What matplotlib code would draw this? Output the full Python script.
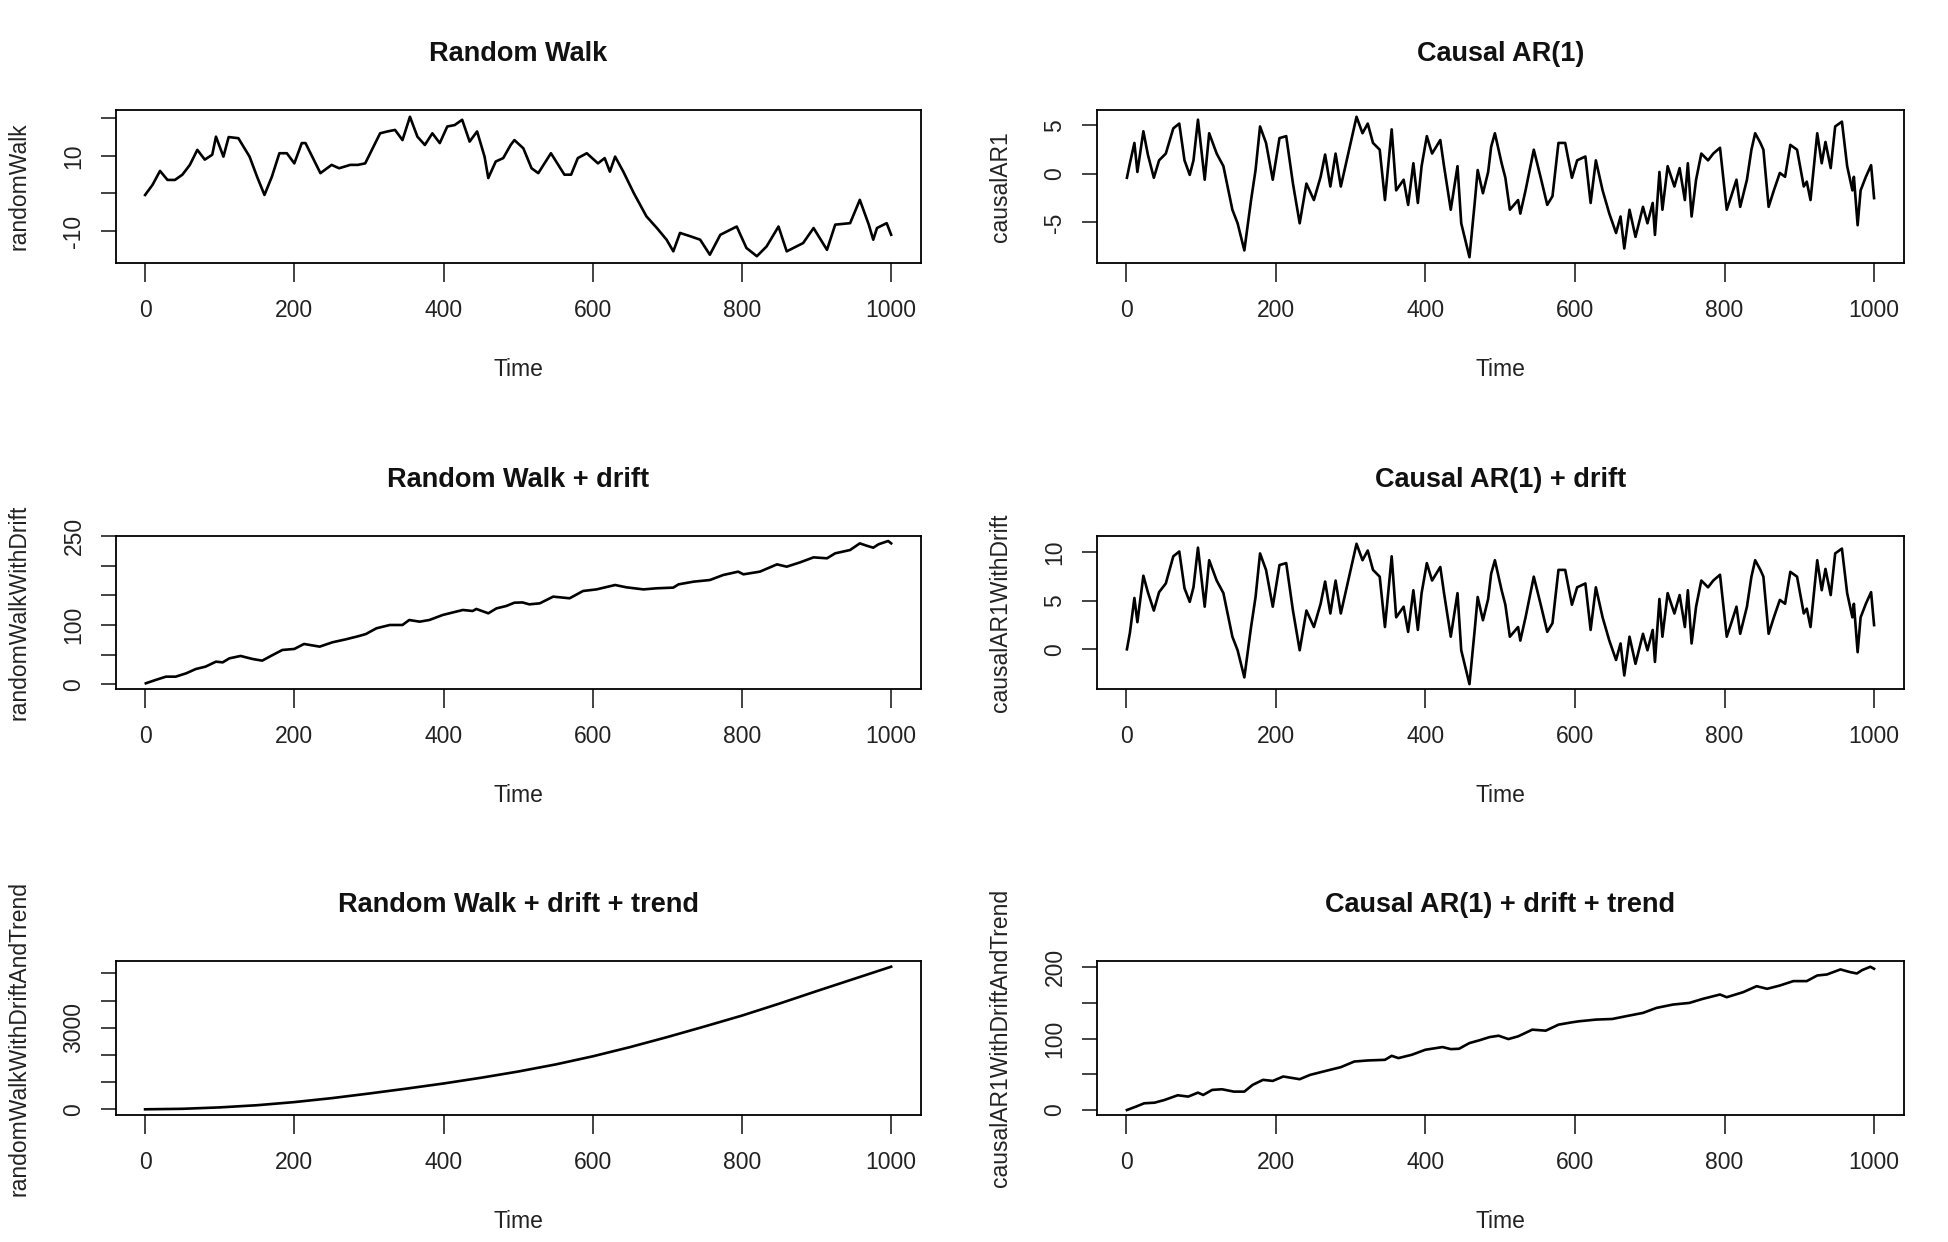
import matplotlib
matplotlib.use("Agg")
import matplotlib.pyplot as plt

plt.rcParams['font.family'] = ['Liberation Sans', 'DejaVu Sans']

# shared time axis ticks
time_ticks = [0, 200, 400, 600, 800, 1000]

# Random Walk
rw_t = [0, 10, 20, 30, 40, 50, 60, 70, 80, 90,
        95, 105, 112, 125, 140, 150, 160, 170, 180, 190,
        200, 210, 215, 225, 235, 250, 260, 275, 285, 295,
        305, 315, 325, 335, 345, 355, 365, 375, 385, 395,
        405, 415, 425, 435, 445, 455, 460, 470, 480, 490,
        495, 507, 518, 527, 544, 562, 571, 580, 592, 607,
        616, 623, 630, 641, 655, 672, 686, 699, 708, 717,
        731, 744, 757, 771, 793, 806, 820, 833, 849, 860,
        882, 896, 914, 925, 945, 958, 970, 976, 981, 994,
        1000]
rw_v = [-0.4, 2.3, 6.0, 3.6, 3.6, 5.0, 7.6, 11.6, 9.0, 10.3,
        15.1, 9.8, 15.0, 14.7, 9.8, 4.5, -0.4, 4.5, 10.7, 10.7,
        8.0, 13.4, 13.4, 9.4, 5.4, 7.6, 6.7, 7.6, 7.6, 8.0,
        12.0, 16.0, 16.5, 16.9, 14.2, 20.4, 15.1, 12.9, 16.0, 13.4,
        17.8, 18.2, 19.6, 13.8, 16.5, 9.8, 4.1, 8.5, 9.4, 12.9,
        14.2, 12.0, 6.7, 5.4, 10.7, 5.0, 5.0, 9.4, 10.7, 8.0,
        9.4, 5.8, 9.8, 5.8, 0.1, -6.1, -9.2, -12.3, -15.4, -10.5,
        -11.4, -12.3, -16.3, -11.0, -8.8, -14.5, -16.7, -14.1, -8.8, -15.4,
        -13.2, -9.2, -15.0, -8.3, -7.9, -1.7, -8.3, -12.3, -9.2, -7.9,
        -11.0]

# Causal AR(1)
ar_t = [1, 5, 11, 15, 23, 29, 37, 44, 53, 63,
        71, 78, 85, 90, 96, 105, 111, 121, 130, 142,
        149, 158, 167, 173, 179, 187, 196, 205, 214, 223,
        232, 241, 251, 260, 266, 273, 280, 287, 294, 300,
        308, 316, 323, 330, 339, 346, 355, 361, 371, 377,
        384, 390, 395, 402, 409, 420, 425, 434, 443, 448,
        459, 466, 470, 477, 484, 488, 493, 502, 507, 513,
        524, 527, 534, 545, 554, 563, 570, 578, 587, 596,
        603, 614, 621, 628, 637, 646, 655, 661, 666, 673,
        681, 691, 697, 704, 707, 713, 717, 724, 733, 740,
        747, 751, 756, 762, 769, 778, 785, 794, 803, 809,
        816, 821, 830, 836, 841, 848, 852, 859, 866, 874,
        881, 888, 897, 906, 910, 915, 924, 930, 935, 942,
        948, 957, 964, 971, 973, 978, 982, 989, 996, 1000]
ar_v = [-0.4, 1.1, 3.2, 0.2, 4.4, 2.0, -0.4, 1.4, 2.1, 4.7,
        5.2, 1.4, -0.1, 1.4, 5.6, -0.6, 4.2, 2.1, 0.8, -3.7,
        -5.1, -7.9, -2.7, 0.4, 4.9, 3.2, -0.6, 3.7, 3.9, -1.0,
        -5.1, -1.0, -2.7, -0.3, 2.0, -1.3, 2.1, -1.3, 1.1, 3.2,
        5.9, 4.2, 5.2, 3.2, 2.5, -2.7, 4.6, -1.7, -0.6, -3.2,
        1.1, -3.0, 0.8, 3.9, 2.1, 3.5, 0.8, -3.7, 0.8, -5.1,
        -8.6, -3.0, 0.4, -2.0, 0.2, 2.8, 4.2, 1.1, -0.4, -3.7,
        -2.7, -4.1, -1.7, 2.5, -0.3, -3.2, -2.3, 3.2, 3.2, -0.4,
        1.4, 1.8, -3.0, 1.4, -1.7, -4.1, -6.1, -4.4, -7.7, -3.7,
        -6.5, -3.4, -5.1, -3.0, -6.3, 0.2, -3.7, 0.8, -1.3, 0.6,
        -2.7, 1.1, -4.4, -0.6, 2.1, 1.4, 2.1, 2.7, -3.7, -2.3,
        -0.6, -3.4, -0.6, 2.5, 4.2, 3.2, 2.5, -3.4, -1.7, 0.1,
        -0.3, 3.0, 2.5, -1.3, -0.8, -2.7, 4.2, 1.1, 3.3, 0.6,
        4.9, 5.4, 0.8, -1.7, -0.3, -5.3, -1.7, -0.3, 0.9, -2.5]

# Random Walk + drift
rwd_t = [1, 14, 28, 41, 55, 68, 81, 95, 104, 113,
         128, 144, 157, 171, 184, 200, 213, 234, 251, 269,
         287, 296, 310, 328, 345, 354, 368, 381, 399, 413,
         426, 439, 444, 460, 471, 484, 495, 506, 515, 529,
         547, 569, 587, 605, 630, 645, 668, 685, 708, 715,
         735, 757, 775, 795, 802, 824, 847, 860, 878, 896,
         914, 925, 945, 958, 967, 976, 983, 996, 1000]
rwd_v = [1.7, 7.3, 12.9, 12.9, 18.5, 25.8, 29.8, 38.2, 37.0, 43.8,
         47.8, 42.7, 39.9, 49.4, 57.9, 59.6, 68.0, 63.5, 70.8, 75.8,
         81.5, 84.8, 94.4, 100.0, 100.0, 108.4, 105.6, 108.4, 116.9, 121.3,
         125.3, 123.6, 127.0, 119.7, 128.0, 132.0, 137.6, 138.0, 134.8, 136.5,
         147.8, 145.0, 157.3, 160.0, 167.4, 163.5, 160.0, 161.8, 163.0, 168.5,
         173.0, 175.8, 184.3, 189.9, 185.4, 189.9, 202.2, 198.3, 205.6, 214.0,
         212.4, 220.8, 226.4, 237.6, 233.7, 230.3, 236.0, 241.6, 237.6]

# Causal AR(1) + drift (same time points as AR(1))
ard_v = [0.0, 1.7, 5.3, 2.8, 7.6, 5.9, 4.0, 5.9, 6.8, 9.6,
         10.1, 6.3, 4.9, 6.4, 10.5, 4.4, 9.2, 7.1, 5.8, 1.3,
         -0.1, -2.9, 2.3, 5.4, 9.9, 8.2, 4.4, 8.7, 8.9, 4.0,
         -0.1, 4.0, 2.3, 4.7, 7.0, 3.7, 7.1, 3.7, 6.1, 8.2,
         10.9, 9.2, 10.2, 8.2, 7.5, 2.3, 9.6, 3.3, 4.4, 1.8,
         6.1, 2.0, 5.8, 8.9, 7.1, 8.5, 5.8, 1.3, 5.8, -0.1,
         -3.6, 2.0, 5.4, 3.0, 5.2, 7.8, 9.2, 6.1, 4.6, 1.3,
         2.3, 0.9, 3.3, 7.5, 4.7, 1.8, 2.7, 8.2, 8.2, 4.6,
         6.4, 6.8, 2.0, 6.4, 3.3, 0.9, -1.1, 0.6, -2.7, 1.3,
         -1.5, 1.6, -0.1, 2.0, -1.3, 5.2, 1.3, 5.8, 3.7, 5.6,
         2.3, 6.1, 0.6, 4.4, 7.1, 6.4, 7.1, 7.7, 1.3, 2.7,
         4.4, 1.6, 4.4, 7.5, 9.2, 8.2, 7.5, 1.6, 3.3, 5.1,
         4.7, 8.0, 7.5, 3.7, 4.2, 2.3, 9.2, 6.1, 8.3, 5.6,
         9.9, 10.4, 5.8, 3.3, 4.7, -0.3, 3.3, 4.7, 5.9, 2.5]

# Random Walk + drift + trend
rwt_t = [0, 50, 100, 150, 200, 250, 300, 350, 400, 450, 500,
         550, 600, 650, 700, 750, 800, 850, 900, 950, 1000]
rwt_v = [0, 18, 70, 150, 265, 410, 580, 760, 950, 1160, 1390,
         1650, 1950, 2290, 2660, 3050, 3450, 3890, 4350, 4800, 5250]

# Causal AR(1) + drift + trend
art_t = [1, 13, 24, 38, 51, 69, 83, 96, 103, 115,
         128, 144, 158, 169, 183, 196, 210, 232, 246, 269,
         287, 305, 323, 346, 355, 364, 382, 400, 423, 434,
         445, 459, 472, 486, 498, 511, 524, 543, 561, 578,
         596, 605, 628, 650, 668, 691, 709, 731, 753, 771,
         794, 803, 825, 843, 857, 874, 892, 910, 924, 937,
         955, 968, 977, 984, 995, 1000]
art_v = [0.0, 4.7, 9.4, 10.3, 14.0, 20.7, 18.8, 24.4, 21.1, 28.2,
         29.1, 25.8, 25.8, 35.2, 42.3, 40.8, 47.0, 43.2, 49.3, 55.4,
         60.1, 68.0, 69.5, 70.4, 76.0, 72.8, 77.5, 84.5, 88.3, 85.4,
         85.9, 93.9, 97.7, 102.3, 104.2, 99.5, 103.3, 112.7, 111.3, 119.7,
         123.0, 124.4, 126.8, 127.7, 131.5, 136.2, 143.2, 147.9, 150.2, 155.9,
         162.0, 158.2, 165.3, 173.7, 170.0, 174.6, 180.8, 180.8, 188.7, 190.1,
         197.2, 193.4, 191.5, 196.2, 200.9, 198.1]

W, H = 1948, 1242
fig = plt.figure(figsize=(W / 100, H / 100), dpi=100)

# panel boxes in pixels: left, top, right, bottom
cols = [(116, 921), (1097, 1904)]
rows = [(110, 263), (536, 689), (961, 1115)]

panels = [
    # row, col, title, ylabel, x, y, ylim, yticks, ytick labels
    (0, 0, "Random Walk", "randomWalk", rw_t, rw_v, (-18.5, 22.2),
     [-10, 0, 10, 20], ["-10", "", "10", ""]),
    (0, 1, "Causal AR(1)", "causalAR1", ar_t, ar_v, (-9.2, 6.6),
     [-5, 0, 5], ["-5", "0", "5"]),
    (1, 0, "Random Walk + drift", "randomWalkWithDrift", rwd_t, rwd_v, (-7.9, 250),
     [0, 50, 100, 150, 200, 250], ["0", "", "100", "", "", "250"]),
    (1, 1, "Causal AR(1) + drift", "causalAR1WithDrift", ar_t, ard_v, (-4.1, 11.7),
     [0, 5, 10], ["0", "5", "10"]),
    (2, 0, "Random Walk + drift + trend", "randomWalkWithDriftAndTrend", rwt_t, rwt_v,
     (-210, 5460), [0, 1000, 2000, 3000, 4000, 5000], ["0", "", "", "3000", "", ""]),
    (2, 1, "Causal AR(1) + drift + trend", "causalAR1WithDriftAndTrend", art_t, art_v,
     (-7, 209), [0, 50, 100, 150, 200], ["0", "", "100", "", "200"]),
]

for r, c, title, ylab, x, y, ylim, yt, ytl in panels:
    x0, x1 = cols[c]
    y0, y1 = rows[r]
    wpx, hpx = x1 - x0, y1 - y0
    ax = fig.add_axes([x0 / W, 1 - y1 / H, wpx / W, hpx / H])
    ax.plot(x, y, color="black", lw=1.9)
    ax.set_xlim(-39, 1040)
    ax.set_ylim(*ylim)
    ax.set_xticks(time_ticks)
    ax.set_yticks(yt)
    ax.set_yticklabels(ytl)
    for s in ax.spines.values():
        s.set_linewidth(1.3)
    ax.tick_params(axis="x", length=14, width=1.2, pad=12, labelsize=16.5, colors="#222222")
    ax.tick_params(axis="y", length=11, width=1.2, pad=11, labelsize=16.5, colors="#222222")
    for lab in ax.get_yticklabels():
        lab.set_rotation(90)
        lab.set_va("center")
    # labels placed like R's base graphics
    ax.text(0.5, 1 + 56 / hpx, title, transform=ax.transAxes, ha="center", va="center",
            fontsize=19.5, fontweight="bold", color="#111111")
    ax.text(0.5, -106 / hpx, "Time", transform=ax.transAxes, ha="center", va="center",
            fontsize=16.5, color="#222222")
    ax.text(-97 / wpx, 0.5, ylab, transform=ax.transAxes, ha="center", va="center",
            rotation=90, fontsize=16.5, color="#222222")

fig.savefig("out.png", dpi=100)
